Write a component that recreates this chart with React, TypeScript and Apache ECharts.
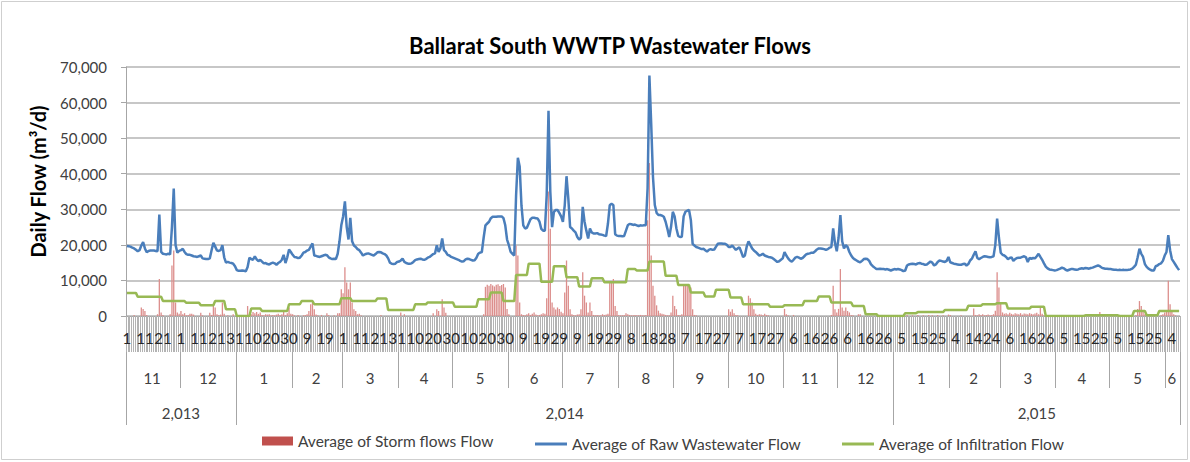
import React, { useEffect, useRef } from 'react';
import * as echarts from 'echarts';

// ---- category structure (daily data, Nov 2013 – early Jun 2015) ----
const monthYears = [2013, 2013, 2014, 2014, 2014, 2014, 2014, 2014, 2014, 2014, 2014, 2014, 2014, 2014, 2015, 2015, 2015, 2015, 2015, 2015];
const monthNums = [11, 12, 1, 2, 3, 4, 5, 6, 7, 8, 9, 10, 11, 12, 1, 2, 3, 4, 5, 6];
const monthDays = [30, 31, 31, 28, 31, 30, 31, 30, 31, 31, 30, 31, 30, 31, 31, 28, 31, 30, 31, 8];
const yearValues = [2013, 2014, 2015];
const yearLabels = ['2,013', '2,014', '2,015'];

const seriesNames = ['Average of Storm flows Flow', 'Average of Raw Wastewater Flow', 'Average of Infiltration Flow'];

// ---- values in thousands of m³/d, one row per month ----
const stormK: number[][] = [
  [0,0,0,0,0.3,0,0,0,2.4,2.0,1.4,0.3,0,0,0,0,0,0.5,10.4,1.0,0.3,0,0,0,0.5,14.2,18.4,3.8,1.0,0.6],
  [1.4,0.5,0.8,0.2,0.3,0.6,0.6,0.4,0,0,0,0.9,0.2,0,0,0,0.9,0.3,3.3,2.4,0.5,0.3,0.4,3.8,0.6,0,0.2,0,0,0.5,0],
  [0,0,0,0,0,0,2.8,0.3,0.5,1.1,0.8,1.1,0.6,1.0,0.3,0.2,0.5,0.4,0.5,0.2,0.3,0.2,0.4,0.6,0.3,0.5,1.4,0.3,0.8,2.4,0.6],
  [0.5,0.2,0,0.3,0,0,0.2,0.3,0.5,1.4,3.3,3.8,1.9,0.4,0.2,0,0.3,0,0,0.8,0.3,0,0,0.2,0,0.8,0.8,7.5],
  [6.4,13.7,9.4,7.5,9.4,3.8,1.9,1.4,0.5,0.6,0.2,0,0,0,0,0,0,0,0,0,0,0.3,0,0,0,0,0,0,0,0,0],
  [0,1.0,0,0.5,0,0,0,0,0,0,0,0,0,0,0,0,0,0,0,0.8,0,1.9,1.4,0,4.7,2.4,0.9,0,0,0],
  [0,0,0,0,0,0,0,0,0,0,0,0,0,0,0,0,0,0.5,8.2,8.8,8.5,9.0,8.6,8.3,8.8,8.9,8.4,8.7,9.0,8.0,2.0],
  [0.5,0,0,0,19.8,17.0,3.8,0.5,0.3,0.2,0.5,0.8,0.3,0.6,1.0,0.4,0.2,0.3,0.5,0.8,0.6,5.0,35.0,24.5,3.8,2.4,1.8,2.4,2.0,1.2],
  [0.8,6.6,15.6,8.5,1.9,0.5,0.3,0.2,0.4,0.5,1.9,12.3,5.7,3.8,1.0,3.8,1.4,0.3,0.2,0.3,0.2,0.2,0.5,0.3,0.4,0.6,9.4,9.4,10.4,2.8,1.4],
  [0.3,0.2,0.2,0.3,0.8,0.5,0.3,0.2,0.2,0.3,0.2,0.2,0.3,0.2,0.2,0.3,26.9,43.0,17.0,8.5,5.7,3.0,1.5,0.8,0.6,0.5,0.3,0.2,0.2,1.0,5.7],
  [2.8,1.9,0.3,0.2,0.5,8.5,8.8,9.0,8.6,8.0,1.9,0.3,0.2,0,0,0,0,0,0,0,0,0,0,0,0,0,0,0,0,0],
  [1.9,1.2,1.9,0.8,0.3,0.2,0,0,0,0,0,5.7,5.0,3.8,1.9,0.6,0.3,0.5,0.4,0.2,0.6,0.3,0.2,0,0,0,0,0,0,0,0],
  [2.0,0.5,0.2,0,0,0.3,0,0,0,0,0,0,0,0,0,0,0,0,0,0,0,0,0,0,0,0,0.3,8.5,1.9,1.0],
  [2.0,13.2,2.4,1.5,2.4,1.4,1.0,0.3,0.2,0,0,0.5,0.5,0,0,0,0,0,0,0,0,0,0,0,0,0,0,0,0,0,0],
  [0,0,0,0,0,0,0,0.3,0,0,0.2,0,0,0.3,0,0,0.2,0,0,0.3,0,0.2,0,0,0.3,0,0,0.2,0,0,0.4],
  [0.3,0,0,0,0,0,0.2,0,0,0,0,0,0,2.1,0.3,0.2,0.5,0.3,0.5,0.2,0.3,0.4,0.2,0.3,0.5,1.5,12.3,8.0],
  [3.8,1.0,0.6,0.8,0.5,0.9,0.6,0.4,0.8,0.6,0.5,0.8,0.4,0.7,0.6,0.5,0.8,0.6,0.5,0.7,0.9,0.5,2.4,0.6,0.2,0,0,0,0,0,0],
  [0,0,0,0,0,0,0,0,0,0,0,0,0,0,0,0,0,0,0,0,0,0,0,0,1.1,0,0,0,0,0],
  [0,0,0,0,0,0,0,0,0,0,0,0,0,0,0.3,2.0,4.2,2.8,1.4,0.5,0,0,0,0,0,0,0,0,0.3,0.5,1.0],
  [1.5,9.9,3.3,1.4,0.5,0.2,0,0],
];

const rawK: number[][] = [
  [19.7,19.6,19.5,19.2,19.0,18.6,18.2,18.5,19.8,20.8,19.0,17.9,18.3,18.4,18.4,18.4,18.3,18.2,28.5,18.0,17.5,17.4,17.3,17.5,17.3,25.0,35.8,20.0,17.8,18.3],
  [18.5,18.9,18.0,17.4,17.2,17.2,17.0,16.8,16.7,16.6,16.8,17.0,16.2,16.1,16.0,16.0,16.2,18.5,20.6,19.5,18.4,18.3,18.5,19.9,16.5,15.0,15.2,15.0,14.9,14.7,14.0],
  [12.9,12.7,12.7,12.8,12.7,12.6,13.8,16.4,16.0,15.8,16.8,15.9,15.4,15.8,15.3,14.8,14.9,14.6,14.5,14.8,15.0,14.8,14.4,14.9,15.2,15.8,17.2,14.9,16.5,18.7,18.0],
  [17.2,16.6,16.5,16.3,16.4,17.0,17.8,18.0,18.4,18.6,19.5,20.4,17.0,16.9,16.7,16.6,16.8,17.0,17.2,17.1,16.5,16.2,16.0,16.1,16.0,17.5,21.0,25.5],
  [28.0,32.2,25.0,21.5,27.6,21.0,19.8,19.4,18.8,18.5,17.8,17.0,17.3,17.5,17.6,17.4,17.2,17.0,17.4,17.9,18.0,17.9,17.6,17.4,17.0,16.2,15.0,14.7,14.6,14.7,15.2],
  [15.3,15.6,16.1,15.2,14.9,14.7,14.7,14.8,15.2,15.7,15.9,16.0,16.1,15.9,15.8,16.0,16.4,16.6,17.0,17.4,17.6,19.9,18.0,19.0,21.8,18.5,18.0,17.2,17.0,16.6],
  [16.4,16.2,16.0,15.8,15.5,15.3,15.4,15.9,16.1,16.0,15.8,15.6,15.7,16.4,17.5,17.8,18.0,22.0,25.5,26.0,26.5,27.5,27.9,27.9,27.9,28.0,28.0,28.0,27.5,25.5,21.5],
  [19.9,18.0,17.5,17.0,33.8,44.5,42.0,31.0,25.5,24.6,24.8,26.0,27.2,27.6,27.6,27.5,27.4,26.5,24.5,24.0,24.0,34.0,57.7,35.0,25.0,29.3,29.8,29.8,29.0,28.0],
  [26.5,31.0,39.3,33.0,25.0,24.6,24.0,23.5,22.2,21.5,22.0,30.7,26.5,24.0,21.8,24.6,23.5,23.2,23.2,23.3,23.0,22.9,22.8,22.6,22.5,26.0,31.2,31.5,31.2,23.0,22.6],
  [22.5,22.5,22.4,22.5,24.0,25.5,25.9,25.8,25.6,25.7,25.5,25.3,25.5,25.4,25.5,25.5,36.0,67.6,54.0,39.0,31.2,29.0,28.4,28.4,28.2,27.9,26.5,24.5,22.2,25.0,29.3],
  [28.0,24.6,22.5,22.2,22.3,28.0,29.3,29.6,29.8,27.0,20.3,19.8,19.4,19.2,19.0,18.8,18.9,18.5,18.1,18.6,18.8,18.6,18.7,19.5,20.3,20.4,20.4,20.3,20.3,20.0],
  [19.4,19.4,19.8,19.2,18.6,19.0,19.3,18.0,16.6,17.0,19.5,21.0,20.0,19.0,18.4,18.0,17.5,17.0,17.2,17.5,17.0,16.8,16.6,16.5,16.4,16.0,15.6,15.2,15.4,15.8,16.2],
  [18.0,17.0,16.2,15.6,15.3,15.8,16.4,16.6,16.4,16.1,16.3,16.8,17.3,17.5,17.6,17.8,17.8,18.2,18.7,19.0,19.0,18.9,18.8,18.6,18.8,19.2,19.4,24.6,20.5,18.2],
  [22.0,28.4,21.0,19.0,19.9,19.4,18.0,17.0,16.3,15.9,15.6,15.3,15.1,15.5,16.0,16.1,16.0,15.5,14.5,14.0,13.6,13.2,13.2,13.3,13.2,13.2,13.1,13.2,13.0,12.8,13.0],
  [13.2,13.1,13.2,13.1,12.9,12.6,12.8,14.2,14.5,14.6,14.7,14.6,14.5,14.8,14.9,14.7,14.6,14.4,14.5,14.9,15.3,15.0,14.2,14.5,15.2,15.6,15.5,15.3,15.2,15.5,16.6],
  [15.1,14.9,14.7,14.6,14.5,14.4,14.4,14.6,14.7,14.2,14.6,15.6,16.1,17.2,18.2,16.3,16.0,16.3,16.6,16.8,16.7,16.6,16.5,16.6,16.8,20.0,27.4,22.0],
  [17.8,17.2,17.0,16.6,16.0,16.3,16.5,15.5,16.0,16.3,16.4,16.4,16.6,16.8,16.5,15.2,16.3,16.1,16.3,16.2,16.8,17.5,16.6,15.8,14.8,13.9,13.4,13.1,13.0,12.9,12.8],
  [12.9,13.1,13.3,13.6,13.4,13.0,12.8,13.0,13.2,13.2,13.1,13.0,13.1,13.3,13.4,13.3,13.5,13.4,13.3,13.5,13.6,13.8,14.0,14.2,14.0,13.6,13.4,13.3,13.3,13.2],
  [13.2,13.1,13.0,13.0,12.9,13.0,12.9,13.0,12.9,12.9,13.0,13.1,13.3,13.8,14.4,16.5,18.9,17.5,16.6,14.6,13.8,13.3,13.0,12.8,12.8,14.0,14.2,14.6,14.8,15.5,17.0],
  [18.0,22.7,18.5,16.0,15.2,14.4,13.6,12.9],
];

const infilK: number[][] = [
  [6.5,6.5,6.5,6.5,6.5,6.5,5.4,5.4,5.4,5.4,5.4,5.4,5.4,5.4,5.4,5.4,5.4,5.4,5.4,5.4,4.2,4.2,4.2,4.2,4.2,4.2,4.2,4.2,4.2,4.2],
  [4.2,4.2,4.2,3.7,3.7,3.7,3.7,3.7,3.7,3.7,3.7,3.0,3.0,3.0,3.0,3.0,3.0,3.0,3.0,4.2,4.2,4.2,4.2,4.2,4.2,1.9,1.9,1.9,1.9,1.9,1.9],
  [0,0,0,0,0,0,0,0,2.1,2.1,2.1,2.1,2.1,2.1,1.4,1.4,1.4,1.4,1.4,1.4,1.4,1.4,1.4,1.4,1.4,1.4,1.4,1.4,1.4,3.3,3.3],
  [3.3,3.3,3.3,3.3,3.3,4.2,4.2,4.2,4.2,4.2,4.2,4.2,3.3,3.3,3.3,3.3,3.3,3.3,3.3,3.3,3.3,3.3,3.3,3.3,3.3,3.3,3.3,5.0],
  [5.0,5.0,5.0,5.0,5.0,4.2,4.2,4.2,4.2,4.2,4.2,4.2,4.2,4.2,4.2,4.2,4.2,4.2,4.2,4.9,4.9,4.9,4.9,4.9,4.9,1.7,1.7,1.7,1.7,1.7,1.7],
  [1.7,1.7,1.7,1.7,1.7,1.7,1.7,1.7,1.7,3.3,3.3,3.3,3.3,3.3,3.3,3.3,3.8,3.8,3.8,3.8,3.8,3.8,3.8,3.8,3.8,3.8,3.8,3.8,3.8,3.8],
  [3.8,2.6,2.6,2.6,2.6,2.6,2.6,2.6,2.6,2.6,2.6,2.6,2.6,2.6,4.7,4.7,4.7,4.7,4.7,4.7,4.7,6.6,6.6,6.6,6.6,6.6,6.6,6.6,4.2,4.2,4.2],
  [4.2,4.2,4.2,4.2,11.5,11.5,11.5,11.5,11.5,11.5,11.5,14.7,14.7,14.7,14.7,14.7,14.7,14.7,9.6,9.6,9.6,9.6,9.6,9.6,9.6,14.0,14.0,14.0,14.0,14.0],
  [14.0,14.0,10.9,10.9,10.9,10.9,10.9,10.9,10.9,8.3,8.3,8.3,8.3,8.3,8.3,8.3,10.6,10.6,10.6,10.6,10.6,10.6,10.6,9.5,9.5,9.5,9.5,9.5,9.5,9.5,9.5],
  [9.5,9.5,9.5,9.5,9.5,13.2,13.2,13.2,13.2,13.2,12.8,12.8,12.8,12.8,12.8,12.8,12.8,15.3,15.3,15.3,15.3,15.3,15.3,15.3,15.3,15.3,11.3,11.3,11.3,11.3,11.3],
  [11.3,11.3,8.7,8.7,8.7,8.7,8.7,8.7,8.7,6.6,6.6,6.6,6.6,6.6,6.6,6.6,6.6,5.5,5.5,5.5,5.5,5.5,5.5,7.4,7.4,7.4,7.4,7.4,7.4,7.4],
  [7.4,5.2,5.2,5.2,5.2,5.2,5.2,5.2,3.3,3.3,3.3,3.3,3.3,3.3,3.3,3.3,3.3,3.3,3.3,3.3,3.3,3.3,3.3,2.6,2.6,2.6,2.6,2.6,2.6,2.6,2.6],
  [3.0,3.0,3.0,3.0,3.0,3.0,3.0,3.0,3.0,3.0,3.0,4.2,4.2,4.2,4.2,4.2,4.2,4.2,4.2,5.5,5.5,5.5,5.5,5.5,5.5,5.5,3.8,3.8,3.8,3.8],
  [3.8,3.8,3.8,3.8,3.8,3.8,3.8,3.8,2.8,2.8,2.8,2.8,2.8,2.8,2.8,0.5,0.5,0.5,0.5,0.5,0.5,0.5,0,0,0,0,0,0,0,0,0],
  [0,0,0,0,0,0,0.8,0.8,0.8,0.8,0.8,0.8,0.8,1.1,1.1,1.1,1.1,1.1,1.1,1.1,1.1,1.1,1.1,1.1,1.1,1.1,1.1,1.1,1.7,1.7,1.7],
  [1.7,1.7,1.7,1.7,1.7,1.7,1.7,1.7,1.7,1.7,2.9,2.9,2.9,2.9,2.9,2.9,2.9,2.9,3.3,3.3,3.3,3.3,3.3,3.3,3.3,3.3,3.6,3.6],
  [3.6,3.6,3.6,3.6,2.1,2.1,2.1,2.1,2.1,2.1,2.1,2.1,2.1,2.1,2.1,2.1,2.1,2.6,2.6,2.6,2.6,2.6,2.6,2.6,2.6,0,0,0,0,0,0],
  [0,0,0,0,0,0,0,0,0,0,0,0,0,0,0,0,0.2,0.2,0.2,0.2,0.2,0.2,0.2,0.2,0.2,0.2,0.2,0.2,0.2,0.2],
  [0.2,0.2,0.2,0.2,0.2,0,0,0,0,0,0,0,0,1.4,1.4,1.4,1.4,1.4,1.4,1.4,0.2,0.2,0.2,0.2,0.2,0.2,0.2,1.4,1.4,1.4,1.4],
  [1.4,1.4,1.4,1.4,1.4,1.4,1.4,1.4],
];

// ---- derived axis structures ----
const categories: string[] = [];
const dayLabel = new Map<string, string>();
const monthStart = new Set<number>();
const monthMid = new Map<string, string>();
const yearStart = new Set<number>();
const yearMid = new Map<string, string>();

(function build() {
  let idx = 0;
  const yearRange: Record<number, [number, number]> = {};
  monthDays.forEach((n, m) => {
    for (const arr of [stormK, rawK, infilK]) {
      if (arr[m].length !== n) throw new Error(`month ${m} length ${arr[m].length} != ${n}`);
    }
    monthStart.add(idx);
    const y = monthYears[m];
    if (!yearRange[y]) yearRange[y] = [idx, idx + n - 1];
    else yearRange[y][1] = idx + n - 1;
    for (let d = 1; d <= n; d++) {
      const key = `${y}-${monthNums[m]}-${d}`;
      categories.push(key);
      dayLabel.set(key, String(d));
      if (d - 1 === Math.floor((n - 1) / 2)) monthMid.set(key, String(monthNums[m]));
      idx++;
    }
  });
  yearValues.forEach((y, i) => {
    const [s, e] = yearRange[y];
    yearStart.add(s);
    yearMid.set(categories[Math.floor((s + e) / 2)], yearLabels[i]);
  });
})();

const stormData = stormK.flat().map((v) => Math.round(v * 1000));
const rawData = rawK.flat().map((v) => Math.round(v * 1000));
const infilData = infilK.flat().map((v) => Math.round(v * 1000));

const FONT = 'Lato';
const TXT = '#404040';
const GRID_LINE = '#b4b4b4';
const RED = '#c0504d';
const BLUE = '#4a7ebb';
const GREEN = '#98b954';

export default function App() {
  const ref = useRef<HTMLDivElement>(null);

  useEffect(() => {
    document.body.style.margin = '0';
    if (!ref.current) return;
    const chart = echarts.init(ref.current, undefined, { renderer: 'svg' });

    const legendText = { fontFamily: FONT, fontSize: 15.5, color: TXT };

    chart.setOption({
      animation: false,
      backgroundColor: '#ffffff',
      textStyle: { fontFamily: FONT },
      title: {
        text: 'Ballarat South WWTP Wastewater Flows',
        left: 605,
        textAlign: 'center',
        top: 29,
        textStyle: { fontFamily: FONT, fontWeight: 'bold', fontSize: 22, color: '#000' },
      },
      graphic: [
        {
          type: 'rect',
          silent: true,
          z: -10,
          shape: { x: 1.5, y: 1.5, width: 1186, height: 458 },
          style: { fill: 'none', stroke: '#cfcfcf', lineWidth: 1 },
        },
      ],
      grid: { left: 126, right: 10, top: 67, bottom: 146, containLabel: false },
      legend: [
        {
          data: [{ name: seriesNames[0], icon: 'rect' }], left: 262, top: 433, padding: 0,
          itemWidth: 31, itemHeight: 9, itemGap: 0,
          textStyle: legendText, itemStyle: { color: RED, opacity: 1 },
        },
        {
          data: [{ name: seriesNames[1], icon: 'rect' }], left: 535, top: 436, padding: 0,
          itemWidth: 32, itemHeight: 3, itemGap: 0,
          textStyle: legendText, itemStyle: { color: BLUE },
        },
        {
          data: [{ name: seriesNames[2], icon: 'rect' }], left: 842, top: 436, padding: 0,
          itemWidth: 32, itemHeight: 3, itemGap: 0,
          textStyle: legendText, itemStyle: { color: GREEN },
        },
      ],
      xAxis: [
        {
          type: 'category',
          data: categories,
          position: 'bottom',
          boundaryGap: true,
          axisLine: { show: true, lineStyle: { color: '#a6a6a6' } },
          axisTick: { show: true, interval: 0, length: 36, lineStyle: { color: '#b3b3b3', width: 1 } },
          axisLabel: {
            interval: 9,
            margin: 14,
            fontFamily: FONT,
            fontSize: 15,
            color: '#262626',
            formatter: (v: string) => dayLabel.get(v) ?? '',
          },
          splitLine: { show: false },
        },
        {
          type: 'category',
          data: categories,
          position: 'bottom',
          offset: 36,
          boundaryGap: true,
          axisLine: { show: false },
          axisTick: {
            show: true,
            interval: (i: number) => monthStart.has(i),
            length: 36,
            lineStyle: { color: '#a6a6a6', width: 1 },
          },
          axisLabel: {
            interval: (i: number, v: string) => monthMid.has(v),
            showMinLabel: true,
            showMaxLabel: true,
            margin: 18,
            fontFamily: FONT,
            fontSize: 15,
            color: TXT,
            formatter: (v: string) => monthMid.get(v) ?? '',
          },
          splitLine: { show: false },
        },
        {
          type: 'category',
          data: categories,
          position: 'bottom',
          offset: 72,
          boundaryGap: true,
          axisLine: { show: false },
          axisTick: {
            show: true,
            interval: (i: number) => yearStart.has(i),
            length: 37,
            lineStyle: { color: '#a6a6a6', width: 1 },
          },
          axisLabel: {
            interval: (i: number, v: string) => yearMid.has(v),
            showMinLabel: true,
            showMaxLabel: true,
            margin: 17,
            fontFamily: FONT,
            fontSize: 15,
            color: TXT,
            formatter: (v: string) => yearMid.get(v) ?? '',
          },
          splitLine: { show: false },
        },
      ],
      yAxis: {
        type: 'value',
        min: 0,
        max: 70000,
        interval: 10000,
        name: 'Daily Flow (m³/d)',
        nameLocation: 'middle',
        nameGap: 78,
        nameTextStyle: { fontFamily: FONT, fontWeight: 'bold', fontSize: 20, color: '#000', padding: [0, 0, 0, 20] },
        axisLine: { show: true, lineStyle: { color: '#a6a6a6' } },
        axisTick: { show: true, length: 5, lineStyle: { color: '#a6a6a6' } },
        axisLabel: {
          margin: 19,
          fontFamily: FONT,
          fontSize: 15,
          color: TXT,
          formatter: (v: number) => v.toLocaleString('en-US'),
        },
        splitLine: { show: true, lineStyle: { color: GRID_LINE, width: 1.5 } },
      },
      series: [
        {
          name: seriesNames[0],
          type: 'bar',
          data: stormData,
          barWidth: 1.3,
          itemStyle: { color: '#dc8e8c' },
          emphasis: { disabled: true },
        },
        {
          name: seriesNames[1],
          type: 'line',
          data: rawData,
          symbol: 'none',
          lineStyle: { color: BLUE, width: 2.5 },
          itemStyle: { color: BLUE },
          emphasis: { disabled: true },
        },
        {
          name: seriesNames[2],
          type: 'line',
          data: infilData,
          symbol: 'none',
          lineStyle: { color: GREEN, width: 2.5 },
          itemStyle: { color: GREEN },
          emphasis: { disabled: true },
        },
      ],
    });

    return () => chart.dispose();
  }, []);

  return <div ref={ref} style={{ width: 1190, height: 462 }} />;
}
